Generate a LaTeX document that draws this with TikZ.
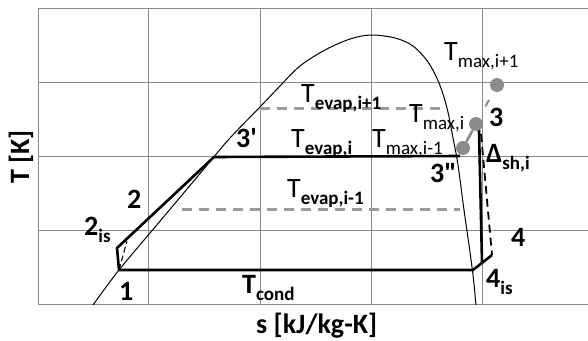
\documentclass[tikz,border=0pt]{standalone}
\usepackage{fontspec}
\newfontfamily\cf{Carlito}
\usetikzlibrary{calc}
\definecolor{gridc}{HTML}{8A8A8A}
\definecolor{dashc}{HTML}{9A9A9A}
\definecolor{dotc}{HTML}{8C8C8C}
\newcommand\sbb[1]{\raisebox{-7pt}{\fontsize{19}{19}\selectfont #1}}
\begin{document}
\begin{tikzpicture}[x=1pt,y=-1pt,
  gridl/.style={draw=gridc,line width=1pt},
  dome/.style={draw=black,line width=1pt},
  cyc/.style={draw=black,line width=2.6pt,line join=round},
  gdash/.style={draw=dashc,line width=3pt,dash pattern=on 10pt off 7pt},
  bdash/.style={draw=black,line width=1.8pt,dash pattern=on 8pt off 5pt},
  gdot/.style={circle,fill=dotc,minimum size=14pt,inner sep=0pt},
  lab/.style={font=\cf\bfseries\fontsize{28}{28}\selectfont,inner sep=0pt,anchor=base west},
  labm/.style={font=\cf\mdseries\fontsize{28}{28}\selectfont,inner sep=0pt,anchor=base west}]
\useasboundingbox (0,0) rectangle (588,340);
% grid
\foreach \x in {38,148.5,260,371,482.5} \draw[gridl] (\x,8.5) -- (\x,304);
\foreach \y in {8.5,82,156,230,304} \draw[gridl] (38,\y) -- (588,\y);
% saturation dome
\draw[dome] plot[smooth,tension=0.55] coordinates {(93,305) (119,270) (161,220) (203,170) (230,138) (260,107) (280,86) (300,66) (325,50) (350,39) (371,35) (395,38) (413,46) (428,62) (439,83) (447,108) (453,138) (458,165) (464,210) (469,245) (473,275) (476,305)};
% dashed evaporation levels
\coordinate (ea) at (260,108); \coordinate (eb) at (445,108);
\coordinate (ec) at (182,209); \coordinate (ed) at (460,209);
\draw[gdash] (ea) -- (eb);
\draw[gdash] (ec) -- (ed);
% cycle points
\coordinate (p1) at (119,270);
\coordinate (p2is) at (117,248);
\coordinate (p2) at (127,241);
\coordinate (p3p) at (214,157);
\coordinate (p3pp) at (460,156);
\coordinate (p3) at (479,130);
\coordinate (p4is) at (482,262);
\coordinate (p4) at (492,255);
\coordinate (pc) at (473,270);
\draw[cyc] (p1) -- (p2is) -- (p3p) -- (p3pp);
\draw[cyc] (p1) -- (pc) -- (p4);
\draw[cyc] (p3) -- (p4is);
\draw[bdash] ($(p3)+(2,4)$) -- (p4);
\draw[draw=black,line width=1pt,dash pattern=on 6pt off 3pt] (p1) -- (p2);
% superheat dots
\node[gdot] (d1) at (463,148) {};
\node[gdot] (d2) at (476,124) {};
\node[gdot] (d3) at (497,85) {};
\draw[draw=dotc,line width=2.6pt] (d1) -- (d2);
\draw[draw=dotc,line width=2pt] ($(d2)!0.45!(d3)$) -- ($(d2)!0.62!(d3)$);
% labels
\node[lab] (l1) at (119,300) {1};
\node[lab] (l2) at (127,208) {2};
\node[lab] (l2is) at (84,235) {2\sbb{is}};
\node[lab] (l3p) at (236,147) {3'};
\node[lab] (l3pp) at (430,182) {3"};
\node[lab] (l3) at (489,126) {3};
\node[lab] (l4) at (511,246) {4};
\node[lab] (l4is) at (486,287) {4\sbb{is}};
\node[lab] (lsh) at (486,162) {Δ\sbb{sh,i}};
\node[lab] (lei1) at (301,102) {\mdseries T\bfseries\sbb{evap,i+1}};
\node[lab] (lei) at (291,147) {\mdseries T\bfseries\sbb{evap,i}};
\node[lab] (lei0) at (287,197) {\mdseries T\bfseries\sbb{evap,i-1}};
\node[labm] (lmi1) at (444,60) {T\sbb{max,i+1}};
\node[labm] (lmi) at (409,122) {T\sbb{max,i}};
\node[labm] (lmi0) at (372,147) {T\sbb{max,i-1}};
\node[lab] (lc) at (242,293) {T\sbb{cond}};
\node[lab] (lx) at (256,333) {s [kJ/kg-K]};
\node[lab,anchor=base,rotate=90] (ly) at (29,157) {T [K]};
\end{tikzpicture}
\end{document}
